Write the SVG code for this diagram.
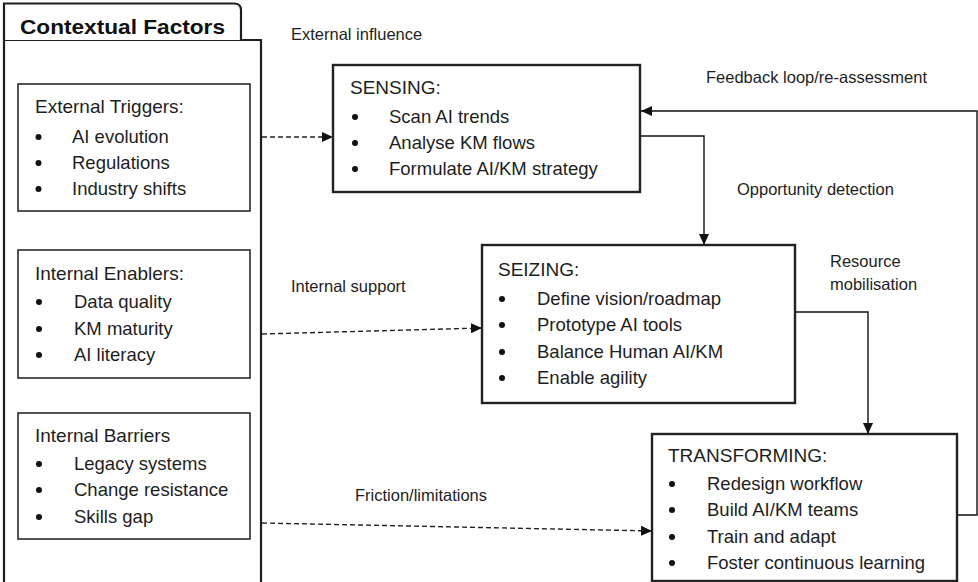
<svg xmlns="http://www.w3.org/2000/svg" width="978" height="582" viewBox="0 0 978 582">
  <defs>
    <marker id="arrow" markerUnits="userSpaceOnUse" markerWidth="12" markerHeight="12" viewBox="0 0 12 12" refX="11" refY="6" orient="auto">
      <path d="M0,1 L11,6 L0,11 Z" fill="#111"/>
    </marker>
    <style>
      text { font-family: "Liberation Sans", Arial, sans-serif; fill: #1e1e1e; }
      .frame { fill: #fff; stroke: #1e1e1e; stroke-width: 2.2; }
      .box { fill: #fff; stroke: #2a2a2a; stroke-width: 1.6; }
      .stage { fill: #fff; stroke: #222; stroke-width: 2.4; }
      .head { font-size: 19px; }
      .item { font-size: 18.5px; }
      .label { font-size: 16.5px; }
      .bold { font-size: 21px; font-weight: bold; fill: #111; }
      .dot { fill: #111; }
      .solid { fill: none; stroke: #111; stroke-width: 1.4; }
      .dash { fill: none; stroke: #222; stroke-width: 1.4; stroke-dasharray: 5 3; }
    </style>
  </defs>
  <rect width="978" height="582" fill="#fff"/>

  <!-- Contextual factors panel with tab -->
  <g id="contextual-factors">
    <path class="frame" d="M4,40 H261 V584 H4 Z"/>
    <path class="frame" d="M4,40 V3.5 H234 Q241,3.5 241,10 V40"/>
    <text class="bold" x="20" y="34" textLength="205" lengthAdjust="spacingAndGlyphs">Contextual Factors</text>
  </g>

  <g id="external-triggers">
    <rect class="box" x="18" y="84" width="232" height="127"/>
    <text class="head" x="35" y="113">External Triggers:</text>
    <circle class="dot" cx="38.5" cy="137" r="3"/>
    <circle class="dot" cx="38.5" cy="163" r="3"/>
    <circle class="dot" cx="38.5" cy="189" r="3"/>
    <text class="item" x="72" y="143">AI evolution</text>
    <text class="item" x="72" y="169">Regulations</text>
    <text class="item" x="72" y="195">Industry shifts</text>
  </g>

  <g id="internal-enablers">
    <rect class="box" x="18" y="250" width="232" height="128"/>
    <text class="head" x="35" y="280">Internal Enablers:</text>
    <circle class="dot" cx="39" cy="302" r="3"/>
    <circle class="dot" cx="39" cy="329" r="3"/>
    <circle class="dot" cx="39" cy="355" r="3"/>
    <text class="item" x="74" y="308">Data quality</text>
    <text class="item" x="74" y="335">KM maturity</text>
    <text class="item" x="74" y="361">AI literacy</text>
  </g>

  <g id="internal-barriers">
    <rect class="box" x="18" y="413" width="232" height="126"/>
    <text class="head" x="35" y="442">Internal Barriers</text>
    <circle class="dot" cx="39" cy="464" r="3"/>
    <circle class="dot" cx="39" cy="490" r="3"/>
    <circle class="dot" cx="39" cy="517" r="3"/>
    <text class="item" x="74" y="470">Legacy systems</text>
    <text class="item" x="74" y="496">Change resistance</text>
    <text class="item" x="74" y="523">Skills gap</text>
  </g>

  <!-- Dynamic capability stages -->
  <g id="sensing">
    <rect class="stage" x="333" y="65" width="307" height="127"/>
    <text class="head" x="350" y="94">SENSING:</text>
    <circle class="dot" cx="355" cy="117" r="3"/>
    <circle class="dot" cx="355" cy="143" r="3"/>
    <circle class="dot" cx="355" cy="169" r="3"/>
    <text class="item" x="389" y="123">Scan AI trends</text>
    <text class="item" x="389" y="149">Analyse KM flows</text>
    <text class="item" x="389" y="175">Formulate AI/KM strategy</text>
  </g>

  <g id="seizing">
    <rect class="stage" x="482" y="245" width="313" height="158"/>
    <text class="head" x="498" y="276">SEIZING:</text>
    <circle class="dot" cx="502" cy="299" r="3"/>
    <circle class="dot" cx="502" cy="325" r="3"/>
    <circle class="dot" cx="502" cy="352" r="3"/>
    <circle class="dot" cx="502" cy="378" r="3"/>
    <text class="item" x="537" y="305">Define vision/roadmap</text>
    <text class="item" x="537" y="331">Prototype AI tools</text>
    <text class="item" x="537" y="358">Balance Human AI/KM</text>
    <text class="item" x="537" y="384">Enable agility</text>
  </g>

  <g id="transforming">
    <rect class="stage" x="652" y="434" width="305" height="147"/>
    <text class="head" x="668" y="462">TRANSFORMING:</text>
    <circle class="dot" cx="672" cy="484" r="3"/>
    <circle class="dot" cx="672" cy="510" r="3"/>
    <circle class="dot" cx="672" cy="537" r="3"/>
    <circle class="dot" cx="672" cy="563" r="3"/>
    <text class="item" x="707" y="490">Redesign workflow</text>
    <text class="item" x="707" y="516">Build AI/KM teams</text>
    <text class="item" x="707" y="543">Train and adapt</text>
    <text class="item" x="707" y="569">Foster continuous learning</text>
  </g>

  <!-- Connectors -->
  <g id="connectors">
    <path class="dash" d="M262,137 H333" marker-end="url(#arrow)"/>
    <path class="dash" d="M262,334 L482,328" marker-end="url(#arrow)"/>
    <path class="dash" d="M262,523 L652,531" marker-end="url(#arrow)"/>
    <path class="solid" d="M641,136 H704 V245" marker-end="url(#arrow)"/>
    <path class="solid" d="M796,312 H868 V434" marker-end="url(#arrow)"/>
    <path class="solid" d="M958,515 H977 V111 H641" marker-end="url(#arrow)"/>
  </g>

  <g id="connector-labels">
    <text class="label" x="291" y="40">External influence</text>
    <text class="label" x="291" y="292">Internal support</text>
    <text class="label" x="355" y="501">Friction/limitations</text>
    <text class="label" x="706" y="83">Feedback loop/re-assessment</text>
    <text class="label" x="737" y="195">Opportunity detection</text>
    <text class="label" x="830" y="267">Resource</text>
    <text class="label" x="830" y="290">mobilisation</text>
  </g>
</svg>
